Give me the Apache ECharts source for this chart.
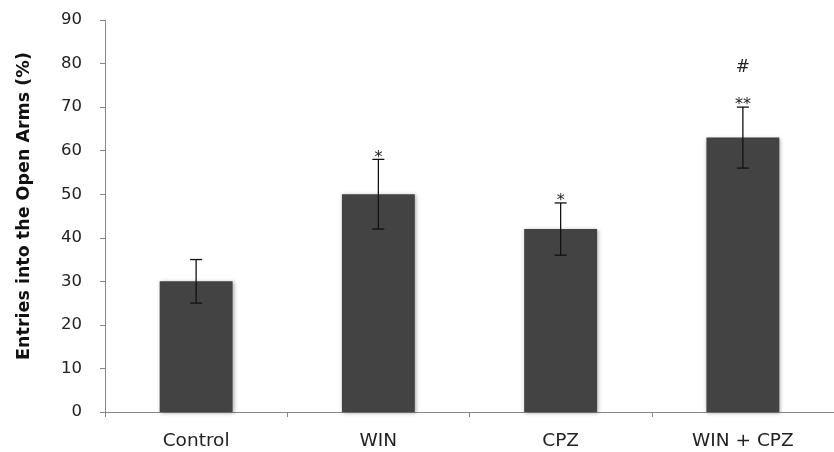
<!DOCTYPE html>
<html><head><meta charset="utf-8">
<script src="https://cdn.jsdelivr.net/npm/echarts@6/dist/echarts.min.js"></script>
<style>html,body{margin:0;padding:0;background:#fff}#c{width:834px;height:452px}</style>
</head><body><div id="c"></div>
<script>
const categories = ['Control', 'WIN', 'CPZ', 'WIN + CPZ'];
const means = [30, 50, 42, 63];
const errLow = [25, 42, 36, 56];
const errHigh = [35, 58, 48, 70];
const starMarks = ['', '*', '*', '**'];
const hashMarks = ['', '', '', '#'];
const hashValues = [null, null, null, 79];
const yTicks = [0, 10, 20, 30, 40, 50, 60, 70, 80, 90];
const yTitle = 'Entries into the Open Arms (%)';

const chart = echarts.init(document.getElementById('c'), null, {renderer: 'canvas'});
const font = '"DejaVu Sans", sans-serif';
chart.setOption({
  animation: false,
  grid: {left: 105, right: -7, top: 20, bottom: 40, containLabel: false},
  graphic: [{
    type: 'text', x: 24, y: 206, rotation: Math.PI / 2,
    style: {text: yTitle, align: 'center', verticalAlign: 'middle', fontSize: 17.5, fontWeight: 'bold', fill: '#111', fontFamily: font}
  }],
  xAxis: {
    type: 'category', data: categories,
    axisLine: {lineStyle: {color: '#888', width: 1}},
    axisTick: {show: true, length: 5, alignWithLabel: false, lineStyle: {color: '#888'}},
    axisLabel: {color: '#222', fontSize: 18.5, fontFamily: font, margin: 20}
  },
  yAxis: {
    type: 'value', min: yTicks[0], max: yTicks[yTicks.length - 1], interval: 10,
    axisLine: {show: true, lineStyle: {color: '#888', width: 1}},
    axisTick: {show: true, length: 5, lineStyle: {color: '#888'}},
    axisLabel: {color: '#222', fontSize: 16.5, fontFamily: font, margin: 23},
    splitLine: {show: false}
  },
  series: [
    {
      type: 'bar', data: means, barWidth: '40%',
      itemStyle: {color: '#434343', shadowColor: 'rgba(0,0,0,0.35)', shadowBlur: 4, shadowOffsetX: 1, shadowOffsetY: 1},
      z: 2
    },
    {
      type: 'custom', z: 5,
      data: categories.map((c, i) => [i, errLow[i], errHigh[i]]),
      renderItem: function (params, api) {
        const i = api.value(0);
        const lo = api.coord([i, api.value(1)]);
        const hi = api.coord([i, api.value(2)]);
        const hw = 6;
        const style = {stroke: '#111', lineWidth: 1.3};
        const children = [
          {type: 'line', shape: {x1: hi[0], y1: hi[1], x2: lo[0], y2: lo[1]}, style},
          {type: 'line', shape: {x1: hi[0] - hw, y1: hi[1], x2: hi[0] + hw, y2: hi[1]}, style},
          {type: 'line', shape: {x1: lo[0] - hw, y1: lo[1], x2: lo[0] + hw, y2: lo[1]}, style}
        ];
        if (starMarks[i]) {
          children.push({type: 'text', style: {text: starMarks[i], x: hi[0], y: hi[1] + 6, align: 'center', verticalAlign: 'bottom', fontSize: 16, fill: '#222', fontFamily: font}});
        }
        if (hashMarks[i]) {
          const hp = api.coord([i, hashValues[i]]);
          children.push({type: 'text', style: {text: hashMarks[i], x: hp[0], y: hp[1], align: 'center', verticalAlign: 'middle', fontSize: 17, fill: '#222', fontFamily: font}});
        }
        return {type: 'group', children};
      }
    }
  ]
});
</script></body></html>
